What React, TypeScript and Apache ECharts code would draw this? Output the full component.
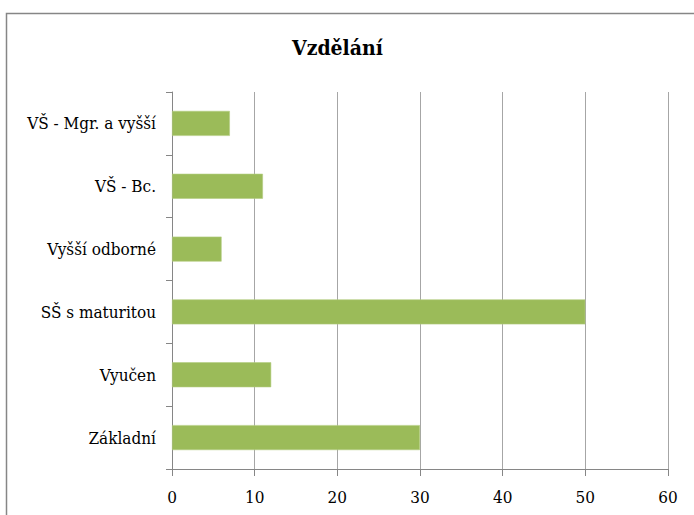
import React, { useEffect, useRef } from "react";
import * as echarts from "echarts";

const categories = ["Základní", "Vyučen", "SŠ s maturitou", "Vyšší odborné", "VŠ - Bc.", "VŠ - Mgr. a vyšší"];
const values = [30, 12, 50, 6, 11, 7];
const titleText = "Vzdělání";

export default function App() {
  const ref = useRef<HTMLDivElement>(null);
  useEffect(() => {
    if (!ref.current) return;
    const chart = echarts.init(ref.current, undefined, { renderer: "svg" });
    const font = "DejaVu Serif Condensed";
    chart.setOption({
      animation: false,
      backgroundColor: "#ffffff",
      title: {
        text: titleText,
        left: 292,
        top: 37,
        padding: 0,
        textStyle: { fontFamily: font, fontSize: 21, fontWeight: "bold", color: "#000" },
      },
      graphic: [
        {
          type: "rect",
          shape: { x: 6.5, y: 13.5, width: 760, height: 600 },
          style: { fill: "none", stroke: "#868686", lineWidth: 1.5 },
          silent: true,
        },
      ],
      grid: { left: 172, right: 26, top: 92, bottom: 46, containLabel: false },
      xAxis: {
        type: "value",
        min: 0,
        max: 60,
        interval: 10,
        axisLine: { show: true, lineStyle: { color: "#868686", width: 1 } },
        axisTick: { show: true, length: 7, lineStyle: { color: "#868686" } },
        splitLine: { show: true, lineStyle: { color: "#a6a6a6", width: 1 } },
        axisLabel: { fontFamily: font, fontSize: 17, color: "#000", margin: 19 },
      },
      yAxis: {
        type: "category",
        data: categories,
        axisLine: { show: true, lineStyle: { color: "#868686", width: 1 } },
        axisTick: { show: true, length: 6, alignWithLabel: false, lineStyle: { color: "#868686" } },
        splitLine: { show: false },
        axisLabel: { fontFamily: font, fontSize: 17, color: "#000", margin: 16 },
      },
      series: [
        {
          type: "bar",
          data: values,
          barWidth: 25,
          itemStyle: { color: "#9bbb59", borderColor: "#b3cc82", borderWidth: 0.6 },
        },
      ],
    });
    return () => chart.dispose();
  }, []);
  return (
    <div
      ref={ref}
      style={{ position: "absolute", left: 0, top: 0, width: 694, height: 515 }}
    />
  );
}
